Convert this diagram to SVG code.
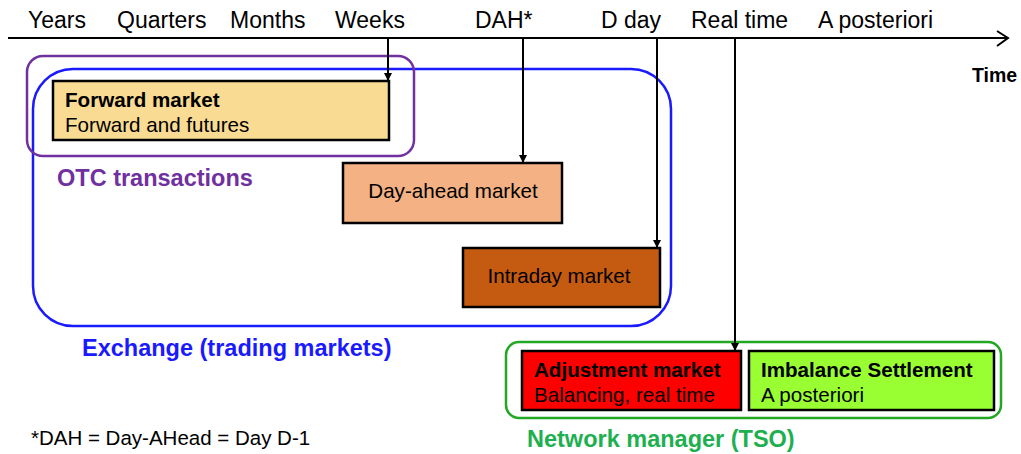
<svg xmlns="http://www.w3.org/2000/svg" width="1021" height="454" viewBox="0 0 1021 454">
<style>
text{font-family:"Liberation Sans",Arial,sans-serif;fill:#000}
.axis{font-size:23px}
.bx{font-size:20.6px}
.b{font-weight:bold}
.lbl{font-size:23.5px;font-weight:bold}
.box{stroke:#000;stroke-width:2.5}
.conn{stroke:#000;stroke-width:2;fill:none}
</style>
<defs>
<marker id="ah" viewBox="0 0 10 10" refX="10" refY="5" markerWidth="8" markerHeight="8" orient="auto" markerUnits="userSpaceOnUse">
<path d="M0,0 L10,5 L0,10 z" fill="#000"/>
</marker>
</defs>
<rect width="1021" height="454" fill="#fff"/>

<g id="timeline">
<line x1="8" y1="38" x2="1008" y2="38" stroke="#000" stroke-width="2"/>
<polyline points="997,31 1008,38 997,46" fill="none" stroke="#000" stroke-width="2"/>
<text class="axis" x="28" y="28">Years</text>
<text class="axis" x="117" y="28">Quarters</text>
<text class="axis" x="230" y="28">Months</text>
<text class="axis" x="335" y="28">Weeks</text>
<text class="axis" x="475" y="28">DAH*</text>
<text class="axis" x="601" y="28">D day</text>
<text class="axis" x="691" y="28">Real time</text>
<text class="axis" x="818" y="28">A posteriori</text>
<text x="972" y="82" font-size="19.5" font-weight="bold">Time</text>
</g>

<g id="exchange">
<rect x="33" y="69" width="638" height="257" rx="40" ry="40" fill="none" stroke="#1a1aff" stroke-width="2.5"/>
<text class="lbl" x="82" y="356" style="fill:#1a1aff">Exchange (trading markets)</text>
</g>

<g id="otc">
<rect x="27" y="56" width="387" height="100" rx="16" ry="16" fill="none" stroke="#7030a0" stroke-width="2.5"/>
<text class="lbl" x="57" y="186" style="fill:#7030a0">OTC transactions</text>
</g>

<g id="forward-market">
<rect class="box" x="53" y="81" width="336" height="59" fill="#f9db93"/>
<text class="bx b" x="65" y="107">Forward market</text>
<text class="bx" x="65" y="132">Forward and futures</text>
</g>

<g id="day-ahead-market">
<rect class="box" x="343" y="163" width="219" height="60" fill="#f4b183"/>
<text class="bx" x="453" y="198" text-anchor="middle">Day-ahead market</text>
</g>

<g id="intraday-market">
<rect class="box" x="463" y="248" width="197" height="59" fill="#c55a11"/>
<text class="bx" x="559" y="283" text-anchor="middle">Intraday market</text>
</g>

<g id="network-manager">
<rect x="506" y="342" width="495" height="76" rx="13" ry="13" fill="none" stroke="#22a822" stroke-width="2.5"/>
<text class="lbl" x="527" y="447" style="fill:#1eb050">Network manager (TSO)</text>
</g>

<g id="adjustment-market">
<rect class="box" x="522" y="351" width="219" height="59" fill="#ff0000"/>
<text class="bx b" x="534" y="377">Adjustment market</text>
<text class="bx" x="534" y="402">Balancing, real time</text>
</g>

<g id="imbalance-settlement">
<rect class="box" x="749" y="351" width="245" height="59" fill="#99ff33"/>
<text class="bx b" x="761" y="377">Imbalance Settlement</text>
<text class="bx" x="761" y="402">A posteriori</text>
</g>

<g id="footnote">
<text x="31" y="445" font-size="20.5">*DAH = Day-AHead = Day D-1</text>
</g>

<g id="connectors">
<line class="conn" x1="388" y1="38" x2="388" y2="81" marker-end="url(#ah)"/>
<line class="conn" x1="523" y1="38" x2="523" y2="163" marker-end="url(#ah)"/>
<line class="conn" x1="657" y1="38" x2="657" y2="248" marker-end="url(#ah)"/>
<line class="conn" x1="735" y1="38" x2="735" y2="351" marker-end="url(#ah)"/>
</g>
</svg>
